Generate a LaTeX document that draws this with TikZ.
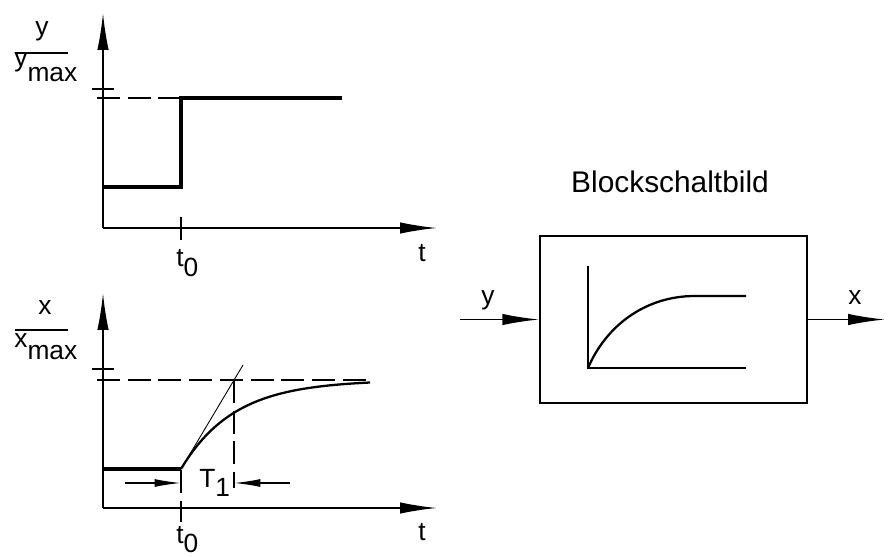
\documentclass[tikz,border=0pt]{standalone}
\usepackage{fontspec}
\setmainfont{Liberation Sans}
\usetikzlibrary{arrows.meta,positioning}
% tiefgestellter Index in voller Schriftgroesse
\newcommand{\tief}[2][0.35em]{\raisebox{-#1}{#2}}
\begin{document}
\begin{tikzpicture}[
        x=0.02cm, y=-0.02cm,
        % Beschriftung
        lbl/.style={
            font=\fontsize{15}{18}\selectfont, inner sep=0pt
        },
        % Titel
        title/.style={
            font=\fontsize{17}{20}\selectfont, inner sep=0pt
        },
        % Block
        blockbox/.style={
            rectangle, draw=black, line width=0.9pt,
            minimum width=5.34cm, minimum height=3.34cm
        },
        % Achsen
        axis/.style={-{Latex[length=21pt,width=6.5pt]}, line width=1pt},
        % Signalpfeile
        sig/.style={-{Latex[length=21pt,width=6.5pt]}, line width=1pt},
        % Masspfeile
        dim/.style={-{Latex[length=15pt,width=4.5pt]}, line width=0.8pt},
        % Verlauf
        thickline/.style={line width=2pt},
        curve/.style={line width=1.3pt},
        thinline/.style={line width=0.5pt},
        dashline/.style={line width=0.9pt, dash pattern=on 13pt off 4.5pt},
        tick/.style={line width=0.9pt}
    ]
        \useasboundingbox (0,0) rectangle (893,557);

        % Sprungfunktion oben
        \coordinate (o1) at (103,228);
        \coordinate (ytip) at (103,13);
        \coordinate (ttip1) at (437,228);
        \draw [axis] (o1) -- (ytip);
        \draw [axis] (o1) -- (ttip1);
        \draw [tick] (181,217) -- (181,240);
        \draw [tick] (92,89) -- (114,89);
        \draw [dashline] (97,98) -- (181,98);
        \draw [thickline] (103,187) -- (181,187) -- (181,98) -- (342,98);
        \node [lbl, anchor=base] (ynum) at (42,36) {y};
        \draw [tick] (15,53) -- (68,53);
        \node [lbl, anchor=base west] (yden) at (14,67) {y\tief[0.55em]{max}};
        \node [lbl, anchor=base west] (t0a) at (176,267) {t\tief{0}};
        \node [lbl, anchor=base] (ta) at (422,262) {t};

        % Sprungantwort unten
        \coordinate (o2) at (103,508);
        \coordinate (xtip) at (103,293);
        \coordinate (ttip2) at (437,508);
        \draw [axis] (o2) -- (xtip);
        \draw [axis] (o2) -- (ttip2);
        \draw [tick] (92,369) -- (114,369);
        \draw [dashline] (97,380) -- (370,380);
        \draw [thickline] (103,469) -- (181,469);
        \draw [curve] plot[domain=0:189, samples=80, smooth]
            ({181+\x},{469-89*(1-exp(-\x/53))});
        \draw [thinline] (181,469) -- (243,365);
        \draw [dashline] (234,380) -- (234,488);
        \draw [dashline] (181,470) -- (181,522);
        \coordinate (m1) at (125,483);
        \coordinate (m2) at (181,483);
        \coordinate (m3) at (290,483);
        \coordinate (m4) at (234,483);
        \draw [dim] (m1) -- (m2);
        \draw [dim] (m3) -- (m4);
        \node [lbl, anchor=base west] (tone) at (199,487) {T\tief{1}};
        \node [lbl, anchor=base] (xnum) at (45,315) {x};
        \draw [tick] (15,330) -- (68,330);
        \node [lbl, anchor=base west] (xden) at (14,348) {x\tief[0.45em]{max}};
        \node [lbl, anchor=base west] (t0b) at (176,543) {t\tief{0}};
        \node [lbl, anchor=base] (tb) at (422,540) {t};

        % Blockschaltbild
        \node [blockbox] (blk) at (673.5,319.5) {};
        \node [title, anchor=base] (head) at (670,193) {Blockschaltbild};
        \coordinate (yin) at (460,319.5);
        \coordinate (xout) at (885,319.5);
        \draw [sig] (yin) -- (blk.west);
        \draw [sig] (blk.east) -- (xout);
        \node [lbl, anchor=base] (yl) at (488,305) {y};
        \node [lbl, anchor=base] (xl) at (855,305) {x};
        \draw [curve] (588,266) -- (588,368) -- (746,368);
        \draw [curve] (588,368) .. controls (606,326) and (645,296) .. (695,296) -- (746,296);

    \end{tikzpicture}
\end{document}
